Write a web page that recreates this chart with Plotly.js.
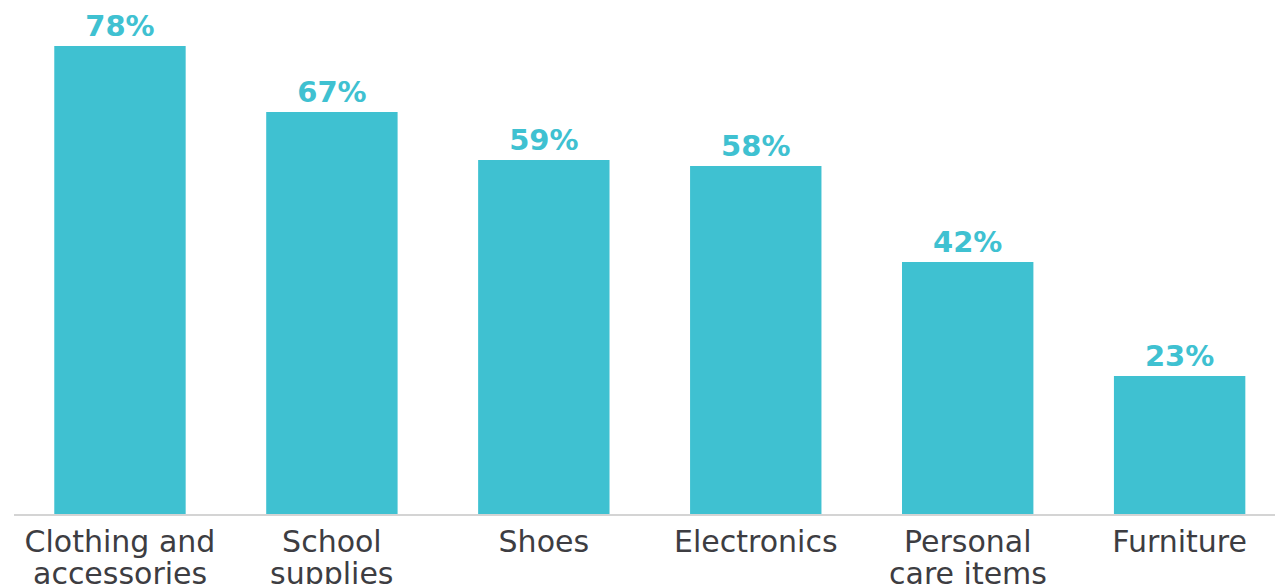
<!DOCTYPE html>
<html>
<head>
<meta charset="utf-8">
<script src="https://cdn.plot.ly/plotly-3.0.1.min.js"></script>
<style>html,body{margin:0;padding:0;background:#fff;}#chart{width:1275px;height:584px;}</style>
</head>
<body>
<div id="chart"></div>
<script>
const categories = ["Clothing and accessories", "School supplies", "Shoes", "Electronics", "Personal care items", "Furniture"];
const labelLine1 = ["Clothing and", "School", "Shoes", "Electronics", "Personal", "Furniture"];
const labelLine2 = ["accessories", "supplies", "", "", "care items", ""];
const values = [78, 67, 59, 58, 42, 23];

const barColor = "#3fc1d1";
const labelFont = "'DejaVu Sans', sans-serif";

const trace = {
  type: "bar",
  x: categories,
  y: values,
  marker: {color: barColor},
  text: values.map(v => v + "%"),
  textposition: "outside",
  cliponaxis: false,
  textfont: {family: labelFont, size: 29, color: barColor, weight: 700},
  hoverinfo: "none"
};

const annotations = categories.map((c, i) => ({
  x: c, xref: "x", y: 0, yref: "paper",
  yanchor: "top", yshift: -40,
  text: labelLine2[i], showarrow: false,
  font: {family: labelFont, size: 30, color: "#3d3d42"}
}));

const layout = {
  width: 1275, height: 584,
  margin: {l: 14, r: 0, t: 4, b: 70},
  paper_bgcolor: "#fff", plot_bgcolor: "#fff",
  showlegend: false,
  bargap: 0.38,
  xaxis: {
    type: "category",
    range: [-0.5, 5.45],
    tickmode: "array", tickvals: categories, ticktext: labelLine1,
    showline: true, linecolor: "#d4d4d4", linewidth: 2,
    ticks: "", showgrid: false, zeroline: false,
    tickfont: {family: labelFont, size: 30, color: "#3d3d42"},
    fixedrange: true
  },
  yaxis: {
    range: [0, 85], visible: false, showgrid: false, zeroline: false, fixedrange: true
  },
  annotations: annotations
};

Plotly.newPlot("chart", [trace], layout, {displayModeBar: false, staticPlot: true});
</script>
</body>
</html>
